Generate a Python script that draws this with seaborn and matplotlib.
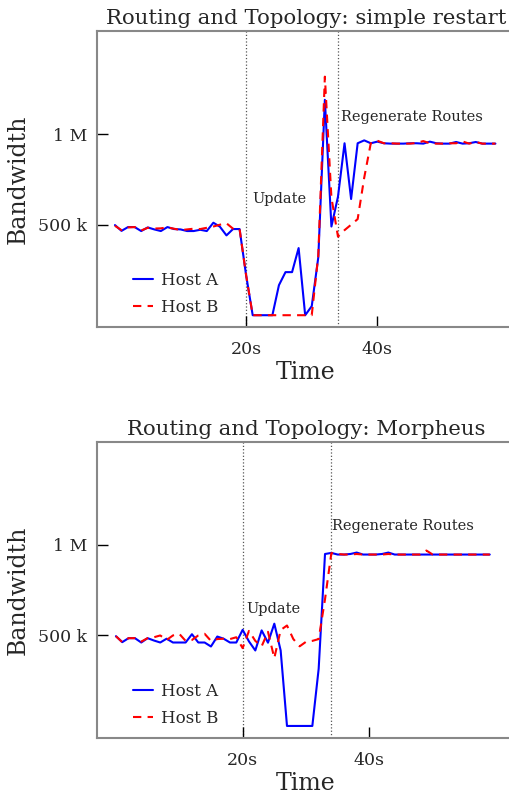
import numpy as np
import pandas as pd
import matplotlib.pyplot as plt
import seaborn as sns

sns.set_style("white")
plt.rcParams["font.family"] = ["DejaVu Serif"]

# bandwidth samples in kB/s, one per second
restart_host_a = [498, 466, 487, 487, 465, 485, 474, 465, 487, 476,
                  474, 465, 465, 472, 465, 511, 489, 441, 476, 476,
                  220, 0, 0, 0, 0, 166, 238, 238, 371, 0,
                  50, 320, 1190, 490, 655, 950, 642, 950, 966, 950,
                  959, 950, 948, 948, 948, 950, 950, 948, 959, 950,
                  948, 948, 957, 948, 950, 957, 948, 948, 948]
restart_host_b = [494, 470, 485, 487, 468, 483, 479, 480, 485, 478,
                  470, 474, 478, 476, 483, 490, 500, 508, 478, 476,
                  220, 0, 0, 0, 0, 0, 0, 0, 0, 0,
                  0, 330, 1318, 650, 434, 470, 500, 531, 760, 950,
                  964, 950, 950, 948, 948, 948, 952, 962, 950, 948,
                  948, 950, 950, 960, 948, 957, 948, 948, 948]
morph_host_a = [496, 463, 485, 485, 461, 485, 472, 461, 482, 461,
                461, 461, 507, 461, 461, 439, 494, 482, 461, 461,
                531, 467, 417, 528, 460, 565, 417, 0, 0, 0,
                0, 0, 316, 950, 956, 947, 947, 950, 958, 947,
                947, 947, 950, 958, 947, 947, 947, 947, 947, 947,
                947, 947, 947, 947, 947, 947, 947, 947, 947, 947]
morph_host_b = [496, 463, 485, 485, 466, 485, 490, 500, 475, 500,
                509, 470, 475, 500, 509, 470, 480, 482, 480, 490,
                430, 525, 470, 440, 520, 375, 530, 555, 480, 440,
                465, 470, 480, 700, 955, 950, 947, 947, 950, 947,
                947, 947, 947, 950, 947, 947, 947, 947, 947, 969,
                947, 947, 947, 947, 947, 947, 947, 947, 947, 947]

y_ticks = [500000, 1000000]
y_tick_labels = ["500 k", "1 M"]
x_ticks = [20, 40]
x_tick_labels = ["20s", "40s"]
events = [20, 34]


def draw_panel(ax, host_a, host_b, title, xlim, update_pos, regen_pos):
    t = np.arange(len(host_a))
    sns.lineplot(x=t, y=np.array(host_a) * 1000, ax=ax, color="#0000ff",
                 linewidth=1.5, label="Host A")
    sns.lineplot(x=t, y=np.array(host_b) * 1000, ax=ax, color="#ff0000",
                 linewidth=1.5, linestyle=(0, (4, 3)), label="Host B")
    for e in events:
        ax.axvline(e, color="#555555", linestyle=":", linewidth=0.9, zorder=0)
    ax.text(update_pos[0], update_pos[1], "Update", fontsize=10.5, va="center")
    ax.text(regen_pos[0], regen_pos[1], "Regenerate Routes", fontsize=10.5, va="center")
    ax.set_xlim(*xlim)
    ax.set_ylim(-66000, 1570000)
    ax.set_xticks(x_ticks)
    ax.set_xticklabels(x_tick_labels)
    ax.set_yticks(y_ticks)
    ax.set_yticklabels(y_tick_labels)
    ax.tick_params(bottom=True, left=True, direction="in", length=8, width=1,
                   color="black", labelsize=12.5, pad=7)
    ax.tick_params(axis="x", pad=10)
    for s in ax.spines.values():
        s.set_color("#888888")
        s.set_linewidth(1.5)
    ax.spines["right"].set_visible(False)
    ax.set_title(title, fontsize=15.3, pad=5)
    ax.set_xlabel("Time", fontsize=17, labelpad=2)
    ax.set_ylabel("Bandwidth", fontsize=17, labelpad=6)
    ax.legend(loc="lower left", frameon=False, fontsize=12, handlelength=1.2,
              handletextpad=0.5, borderaxespad=0, bbox_to_anchor=(0.07, 0.015),
              labelspacing=0.6)


fig = plt.figure(figsize=(5.1, 7.96), dpi=100)
ax1 = fig.add_axes([0.190, 0.589, 0.82, 0.372])
ax2 = fig.add_axes([0.190, 0.073, 0.82, 0.372])

draw_panel(ax1, restart_host_a, restart_host_b,
           "Routing and Topology: simple restart", (-2.75, 61.0),
           (20.9, 641000), (34.5, 1095000))
draw_panel(ax2, morph_host_a, morph_host_b,
           "Routing and Topology: Morpheus", (-3.0, 63.0),
           (20.6, 648000), (34.1, 1104000))

fig.savefig("out.png", dpi=100)
